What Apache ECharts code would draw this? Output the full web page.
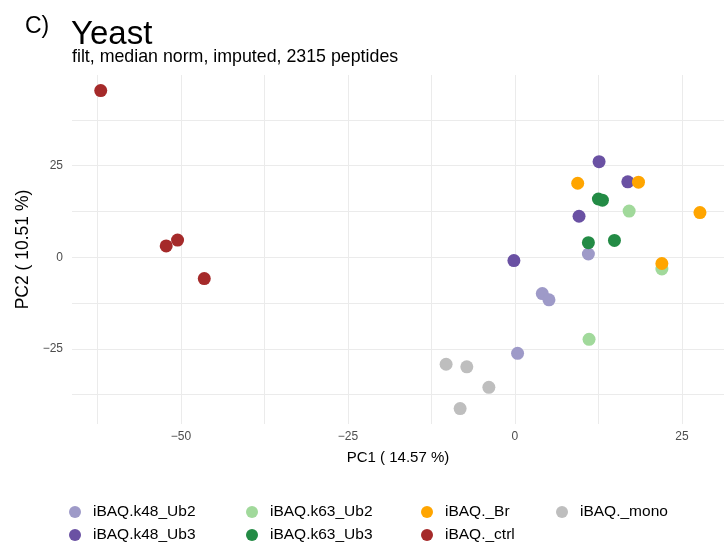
<!DOCTYPE html>
<html>
<head>
<meta charset="utf-8">
<script src="https://cdn.jsdelivr.net/npm/echarts@6/dist/echarts.min.js"></script>
<style>html,body{margin:0;padding:0;background:#fff}#c{width:724px;height:543px}</style>
</head>
<body>
<div id="c"></div>
<script>
const seriesNames = ['iBAQ.k48_Ub2','iBAQ.k48_Ub3','iBAQ.k63_Ub2','iBAQ.k63_Ub3','iBAQ._Br','iBAQ._ctrl','iBAQ._mono'];
const seriesColors = ['#9E9AC8','#6A51A3','#A1D99B','#238B45','#FFA500','#A52A2A','#BEBEBE'];
const k48_Ub2 = [[11.0,0.9],[4.1,-9.9],[5.1,-11.6],[0.4,-26.2]];
const k48_Ub3 = [[12.6,26.1],[16.9,20.6],[9.6,11.2],[-0.15,-0.9]];
const k63_Ub2 = [[17.1,12.6],[22.0,-3.2],[11.1,-22.4]];
const k63_Ub3 = [[12.5,15.9],[13.1,15.6],[11.0,4.0],[14.9,4.6]];
const br = [[9.4,20.2],[18.5,20.5],[27.7,12.2],[22.0,-1.7]];
const ctrl = [[-62.0,45.5],[-52.2,3.1],[-50.5,4.7],[-46.5,-5.8]];
const mono = [[-10.3,-29.2],[-7.2,-29.9],[-3.9,-35.5],[-8.2,-41.3]];
const seriesData = [k48_Ub2,k48_Ub3,k63_Ub2,k63_Ub3,br,ctrl,mono];
const xTickLabels = [-50,-25,0,25];
const xGridValues = [-62.5,-50,-37.5,-25,-12.5,0,12.5,25];
const yTickLabels = [-25,0,25];
const yGridValues = [-37.5,-25,-12.5,0,12.5,25,37.5];

const FONT = "'Liberation Sans', Arial, Helvetica, sans-serif";
const minus = v => String(v).replace('-', '\u2212');
const chart = echarts.init(document.getElementById('c'), null, {renderer:'canvas'});
const legendCols = [[0,1],[2,3],[4,5],[6]];
const legendLefts = [69,246,421,556];
chart.setOption({
  backgroundColor:'#fff',
  animation:false,
  title:[
    {text:'C)', left:25, top:15, padding:0, textStyle:{fontFamily:FONT,fontSize:23,fontWeight:'normal',color:'#000'}},
    {text:'Yeast', left:71, top:18, padding:0, textStyle:{fontFamily:FONT,fontSize:33,fontWeight:'normal',color:'#000'}},
    {text:'filt, median norm, imputed, 2315 peptides', left:72, top:48, padding:0, textStyle:{fontFamily:FONT,fontSize:17.8,fontWeight:'normal',color:'#000'}}
  ],
  grid:{left:72, right:0, top:75, bottom:119, containLabel:false},
  xAxis:{
    type:'value', min:-66.3, max:31.3,
    name:'PC1 ( 14.57 %)', nameLocation:'middle', nameGap:26,
    nameTextStyle:{fontFamily:FONT,fontSize:15,color:'#000'},
    axisLine:{show:false},
    axisTick:{show:false, customValues:xGridValues},
    axisLabel:{customValues:xTickLabels, formatter:minus, margin:7, fontFamily:FONT, fontSize:12, color:'#4D4D4D'},
    splitLine:{show:true, lineStyle:{color:'#EBEBEB', width:1}}
  },
  yAxis:{
    type:'value', min:-45.5, max:49.75,
    name:'PC2 ( 10.51 %)', nameLocation:'middle', nameGap:36, nameRotate:90,
    nameTextStyle:{fontFamily:FONT,fontSize:17.5,color:'#000'},
    axisLine:{show:false},
    axisTick:{show:false, customValues:yGridValues},
    axisLabel:{customValues:yTickLabels, formatter:minus, margin:9, fontFamily:FONT, fontSize:12, color:'#4D4D4D'},
    splitLine:{show:true, lineStyle:{color:'#EBEBEB', width:1}}
  },
  legend: legendCols.map((col,i)=>({
    orient:'vertical', left:legendLefts[i], top:504, height:80, padding:0,
    itemWidth:26, itemHeight:12, itemGap:7, icon:'circle',
    textStyle:{fontFamily:FONT,fontSize:15.5,color:'#000',lineHeight:15},
    data:col.map(j=>seriesNames[j])
  })),
  series: seriesNames.map((n,i)=>({
    name:n, type:'scatter', symbol:'circle', symbolSize:13,
    itemStyle:{color:seriesColors[i], opacity:1},
    data:seriesData[i]
  }))
});
</script>
</body>
</html>
